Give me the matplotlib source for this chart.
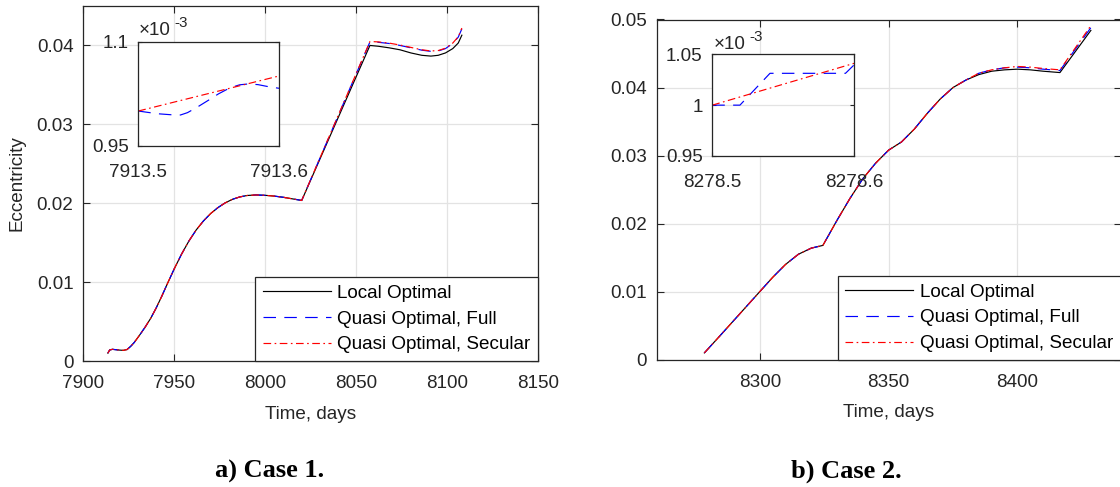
import matplotlib
matplotlib.use("Agg")
import matplotlib.pyplot as plt

plt.rcParams['font.family'] = ['Liberation Sans', 'DejaVu Sans']
plt.rcParams['lines.scale_dashes'] = False

# ---------------- Case 1 data ----------------
days1 = [7913.5, 7914.5, 7916, 7918, 7920, 7922, 7924, 7926, 7928, 7931, 7934, 7937,
         7940, 7943, 7946, 7950, 7954, 7958, 7962, 7966, 7970, 7974, 7978, 7982,
         7986, 7990, 7995, 8000, 8005, 8010, 8015, 8020,
         8057.5, 8062, 8068, 8074, 8080, 8086, 8091, 8095, 8099, 8103, 8106, 8108]
local1 = [0.00100, 0.00140, 0.00148, 0.00143, 0.00138, 0.00135, 0.00145, 0.00185,
          0.00235, 0.00330, 0.00430, 0.00540, 0.00670, 0.00815, 0.00970, 0.01170,
          0.01355, 0.01520, 0.01660, 0.01775, 0.01870, 0.01945, 0.02005, 0.02050,
          0.02080, 0.02098, 0.02105, 0.02100, 0.02090, 0.02075, 0.02055, 0.02035,
          0.04000, 0.03990, 0.03970, 0.03945, 0.03905, 0.03875, 0.03865, 0.03875,
          0.03905, 0.03960, 0.04030, 0.04130]
full1 = local1[:32] + [0.04045, 0.04040, 0.04025, 0.04000, 0.03970, 0.03940,
                       0.03925, 0.03930, 0.03960, 0.04025, 0.04105, 0.04210]
secular1 = local1[:32] + [0.04050, 0.04045, 0.04030, 0.04005, 0.03975, 0.03945,
                          0.03930, 0.03935, 0.03965, 0.04030, 0.04110, 0.04220]

# inset (values in units of 1e-3)
ins1_full_x = [7913.500, 7913.508, 7913.515, 7913.523, 7913.530, 7913.535, 7913.542,
               7913.550, 7913.557, 7913.565, 7913.572, 7913.578, 7913.585, 7913.592,
               7913.600]
ins1_full = [1.0003, 0.9980, 0.9962, 0.9950, 0.9946, 0.9980, 1.0060, 1.0160, 1.0250,
             1.0335, 1.0380, 1.0392, 1.0383, 1.0355, 1.0330]
ins1_sec_x = [7913.5, 7913.6]
ins1_sec = [1.0003, 1.0507]

# ---------------- Case 2 data ----------------
days2 = [8278.5, 8285, 8290, 8295, 8300, 8305, 8310, 8315, 8320, 8324.5, 8330, 8335,
         8340, 8345, 8350, 8352.5, 8355, 8360, 8365, 8370, 8375, 8380, 8385, 8390,
         8395, 8400, 8405, 8410, 8416.5, 8428.5]
local2 = [0.0010, 0.0037, 0.0058, 0.0079, 0.0100, 0.0121, 0.0140, 0.0155, 0.0164,
          0.0168, 0.0205, 0.0237, 0.0266, 0.0289, 0.0308, 0.0314, 0.0320, 0.0339,
          0.0362, 0.0383, 0.0400, 0.0411, 0.0419, 0.0424, 0.0426, 0.0427, 0.0426,
          0.0424, 0.0422, 0.0484]
full2 = local2[:22] + [0.0421, 0.0426, 0.0429, 0.0430, 0.0429, 0.0427, 0.0425, 0.0488]
secular2 = local2[:22] + [0.0421, 0.0426, 0.0429, 0.0431, 0.0430, 0.0428, 0.0426, 0.0491]

ins2_full_x = [8278.500, 8278.5195, 8278.5407, 8278.594, 8278.600]
ins2_full = [1.000, 1.000, 1.0313, 1.0313, 1.0395]
ins2_sec_x = [8278.5, 8278.6]
ins2_sec = [1.000, 1.0411]

labels = ['Local Optimal', 'Quasi Optimal, Full', 'Quasi Optimal, Secular']
x1_ticks = [7900, 7950, 8000, 8050, 8100, 8150]
y1_ticks = [0, 0.01, 0.02, 0.03, 0.04]
y1_ticklabels = ['0', '0.01', '0.02', '0.03', '0.04']
x2_ticks = [8300, 8350, 8400]
y2_ticks = [0, 0.01, 0.02, 0.03, 0.04, 0.05]
y2_ticklabels = ['0', '0.01', '0.02', '0.03', '0.04', '0.05']

# ---------------- styling ----------------
W, H = 1120, 487
FS = 13.6
TXT = '#262626'
GRID = '#e3e3e3'
DASH = (0, (9, 6))
DASHDOT = (0, (5.5, 2.5, 1.2, 2.5))
LW = 0.85

fig = plt.figure(figsize=(W / 100, H / 100), dpi=100)


def px_axes(l, t, r, b):
    return fig.add_axes([l / W, 1 - b / H, (r - l) / W, (b - t) / H])


def style(ax, ticklen=5, xpad=10):
    for s in ax.spines.values():
        s.set_color(TXT)
        s.set_linewidth(0.9)
    ax.tick_params(direction='in', top=True, right=True, length=ticklen, width=0.8,
                   color=TXT, labelcolor=TXT, labelsize=FS)
    ax.tick_params(axis='x', pad=xpad)
    ax.tick_params(axis='y', pad=7)
    ax.grid(True, color=GRID, linewidth=0.9)
    ax.set_axisbelow(True)


def main_lines(ax, d, lo, fu, se):
    ax.plot(d, lo, color='black', lw=LW, label=labels[0])
    ax.plot(d, fu, color='blue', lw=LW, linestyle=DASH, label=labels[1])
    ax.plot(d, se, color='red', lw=LW, linestyle=DASHDOT, label=labels[2])


def legend(ax):
    leg = ax.legend(loc='lower right', bbox_to_anchor=(1, 0), borderaxespad=0,
                    fontsize=FS, frameon=True, fancybox=False, handlelength=3.6,
                    handletextpad=0.35, labelspacing=0.45, borderpad=0.4)
    fr = leg.get_frame()
    fr.set_edgecolor(TXT)
    fr.set_linewidth(0.9)
    fr.set_facecolor('white')
    fr.set_alpha(1)
    for t in leg.get_texts():
        t.set_color('black')


def exponent(x, y):
    fig.text(x / W, 1 - y / H, '\u00d710', fontsize=FS, color=TXT, ha='left', va='baseline')
    fig.text((x + 35) / W, 1 - (y - 8) / H, '-3', fontsize=FS * 0.8, color=TXT,
             ha='left', va='baseline')


# ---------------- panel a ----------------
ax1 = px_axes(83.3, 6, 538.3, 361)
main_lines(ax1, days1, local1, full1, secular1)
ax1.set_xlim(7900, 8150)
ax1.set_ylim(0, 0.045)
ax1.set_xticks(x1_ticks)
ax1.set_yticks(y1_ticks)
ax1.set_yticklabels(y1_ticklabels)
style(ax1)
ax1.set_xlabel('Time, days', fontsize=FS, color=TXT, labelpad=10)
ax1.set_ylabel('Eccentricity', fontsize=FS, color=TXT, labelpad=8)
legend(ax1)

in1 = px_axes(138.3, 41.7, 279, 146)
in1.plot(ins1_full_x, ins1_full, color='blue', lw=LW, linestyle=DASH)
in1.plot(ins1_sec_x, ins1_sec, color='red', lw=LW, linestyle=DASHDOT)
in1.set_xlim(7913.5, 7913.6)
in1.set_ylim(0.95, 1.1)
in1.set_xticks([7913.5, 7913.6])
in1.set_xticklabels(['7913.5', '7913.6'])
in1.set_yticks([0.95, 1.1])
in1.set_yticklabels(['0.95', '1.1'])
style(in1, ticklen=3, xpad=13)
exponent(139, 35)

# ---------------- panel b ----------------
ax2 = px_axes(656.7, 19.5, 1120.5, 359.7)
main_lines(ax2, days2, local2, full2, secular2)
ax2.set_xlim(8260, 8440)
ax2.set_ylim(0, 0.05)
ax2.set_xticks(x2_ticks)
ax2.set_yticks(y2_ticks)
ax2.set_yticklabels(y2_ticklabels)
style(ax2)
ax2.set_xlabel('Time, days', fontsize=FS, color=TXT, labelpad=10)
legend(ax2)

in2 = px_axes(712.3, 54.3, 854, 156)
in2.plot(ins2_full_x, ins2_full, color='blue', lw=LW, linestyle=DASH)
in2.plot(ins2_sec_x, ins2_sec, color='red', lw=LW, linestyle=DASHDOT)
in2.set_xlim(8278.5, 8278.6)
in2.set_ylim(0.95, 1.05)
in2.set_xticks([8278.5, 8278.6])
in2.set_xticklabels(['8278.5', '8278.6'])
in2.set_yticks([0.95, 1.0, 1.05])
in2.set_yticklabels(['0.95', '1', '1.05'])
style(in2, ticklen=3, xpad=13)
exponent(714, 49)

# ---------------- captions ----------------
fig.text(270 / W, 1 - 471 / H, 'a) Case 1.', fontsize=19, fontweight='bold',
         family='Liberation Serif', ha='center', va='center', color='black')
fig.text(846 / W, 1 - 471 / H, 'b) Case 2.', fontsize=19, fontweight='bold',
         family='Liberation Serif', ha='center', va='center', color='black')

fig.savefig('out.png', dpi=100)
